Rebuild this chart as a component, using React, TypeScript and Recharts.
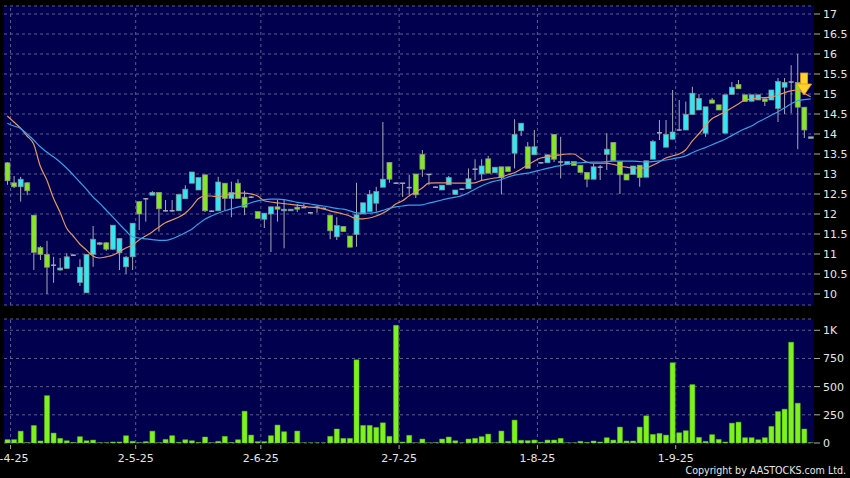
import React from "react";
import {
  ComposedChart,
  Bar,
  Line,
  XAxis,
  YAxis,
  CartesianGrid,
  ReferenceLine,
  ReferenceDot,
} from "recharts";

// daily OHLC
const opens = [
  13.28, 12.78, 12.68, 12.78, 11.97, 11.16, 10.99, 10.72, 10.6, 10.64,
  10.97, 10.29, 10.03, 10.99, 11.25, 11.28, 11.12, 11.03, 10.68, 10.93,
  12.31, 12.38, 12.47, 12.54, 12.08, 12.08, 12.08, 12.38, 12.77, 12.6,
  12.98, 12.07, 12.08, 12.77, 12.39, 12.77, 12.42, 12.42, 12.06, 11.87,
  12.0, 12.18, 12.08, 12.08, 12.17, 12.16, 12.03, 12.17, 12.14, 11.97,
  11.43, 11.69, 11.45, 11.49, 12.0, 12.06, 12.27, 12.67, 13.29, 12.77,
  12.77, 12.66, 13.0, 13.49, 12.99, 12.67, 12.6, 12.73, 12.49, 12.62,
  12.63, 13.12, 13.0, 13.38, 13.03, 13.18, 13.18, 13.52, 14.08, 13.68,
  13.48, 13.28, 13.28, 13.99, 13.3, 13.24, 13.31, 13.22, 13.04, 12.87,
  13.17, 13.49, 13.79, 13.31, 13.0, 12.99, 13.22, 12.92, 13.37, 14.03,
  13.67, 13.87, 14.1, 14.1, 14.49, 14.6, 14.02, 14.85, 14.73, 14.02,
  14.99, 15.24, 14.98, 14.82, 14.85, 14.88, 14.85, 14.64, 15.17, 15.3,
  15.29, 14.67, 13.89,
];
const highs = [
  13.3, 12.95, 12.93, 12.8, 11.97, 11.2, 11.33, 10.93, 10.9, 11.02,
  10.99, 10.87, 10.99, 11.7, 11.3, 11.3, 11.72, 11.4, 10.95, 11.77,
  12.31, 12.4, 12.57, 12.54, 12.35, 12.35, 12.49, 12.72, 13.05, 12.91,
  12.98, 12.09, 12.93, 12.77, 12.81, 12.87, 12.58, 12.45, 12.06, 12.02,
  12.18, 12.35, 12.37, 12.12, 12.25, 12.25, 12.05, 12.2, 12.16, 11.97,
  11.92, 11.69, 11.45, 12.78, 12.28, 12.6, 12.68, 14.3, 13.29, 12.79,
  12.77, 12.98, 13.0, 13.6, 12.99, 12.69, 12.72, 12.95, 12.6, 12.64,
  13.14, 13.37, 13.37, 13.45, 13.17, 13.18, 13.18, 14.37, 14.27, 13.8,
  14.1, 13.3, 13.48, 14.0, 13.93, 13.31, 13.31, 13.22, 13.04, 13.25,
  13.22, 14.02, 13.79, 13.31, 13.0, 13.2, 13.22, 13.33, 13.85, 14.35,
  14.35, 15.1, 14.85, 14.81, 15.18, 15.0, 14.68, 14.9, 14.73, 14.98,
  15.3, 15.35, 14.98, 14.98, 14.98, 14.88, 15.1, 15.4, 15.4, 15.72,
  16.0, 14.67, 13.93,
];
const lows = [
  12.73, 12.65, 12.31, 12.47, 10.6, 10.85, 10.0, 10.28, 10.58, 10.64,
  10.95, 10.2, 10.03, 10.68, 11.22, 11.08, 11.1, 10.6, 10.5, 10.6,
  11.6, 11.81, 12.47, 11.56, 12.06, 12.06, 12.08, 12.38, 12.77, 12.6,
  12.05, 12.05, 12.08, 12.1, 11.92, 12.39, 11.97, 12.4, 11.89, 11.65,
  11.05, 11.81, 11.14, 12.08, 12.05, 12.16, 12.01, 12.03, 12.12, 11.37,
  11.35, 11.56, 11.17, 11.18, 12.0, 12.06, 12.06, 12.67, 12.78, 12.75,
  12.43, 12.48, 12.4, 12.93, 12.72, 12.65, 12.6, 12.73, 12.49, 12.6,
  12.63, 12.85, 12.85, 13.02, 13.03, 12.49, 13.06, 13.14, 13.95, 13.14,
  13.48, 13.26, 13.28, 13.3, 12.89, 13.24, 13.21, 13.04, 12.67, 12.87,
  12.85, 13.1, 13.33, 12.5, 12.85, 12.99, 12.68, 12.92, 13.37, 13.85,
  13.67, 13.87, 14.08, 14.1, 14.49, 14.6, 13.93, 14.77, 14.6, 14.02,
  14.99, 15.13, 14.81, 14.82, 14.85, 14.7, 14.85, 14.3, 14.5, 14.52,
  13.62, 13.9, 13.89,
];
const closes = [
  12.83, 12.68, 12.87, 12.58, 11.04, 10.99, 10.67, 10.72, 10.65, 10.93,
  10.97, 10.67, 10.99, 11.37, 11.28, 11.12, 11.72, 11.39, 10.92, 11.77,
  12.0, 12.38, 12.54, 12.13, 12.08, 12.08, 12.49, 12.62, 13.05, 12.91,
  12.08, 12.07, 12.8, 12.39, 12.54, 12.39, 12.17, 12.42, 11.89, 12.02,
  12.18, 12.12, 12.12, 12.12, 12.12, 12.16, 12.03, 12.17, 12.14, 11.58,
  11.71, 11.56, 11.17, 11.98, 12.28, 12.49, 12.56, 12.87, 12.87, 12.77,
  12.77, 12.66, 12.48, 13.12, 12.99, 12.67, 12.72, 12.91, 12.6, 12.62,
  12.88, 13.12, 13.2, 13.02, 13.17, 12.91, 13.06, 13.99, 14.27, 13.14,
  13.68, 13.28, 13.48, 13.37, 13.3, 13.31, 13.21, 13.04, 12.87, 13.18,
  13.17, 13.62, 13.33, 12.98, 12.85, 13.2, 12.91, 13.33, 13.81, 14.03,
  13.99, 14.05, 14.1, 14.49, 15.02, 14.89, 14.68, 14.77, 14.6, 14.98,
  15.17, 15.13, 14.81, 14.98, 14.98, 14.81, 15.1, 15.31, 15.29, 15.3,
  14.67, 14.1, 13.93,
];
// volume, thousands
const volumes = [
  30, 30, 105, 3, 155, 18, 420, 88, 41, 20,
  5, 56, 20, 26, 2, 2, 9, 9, 65, 15,
  3, 12, 105, 2, 32, 65, 6, 29, 20, 5,
  53, 2, 15, 59, 5, 29, 282, 70, 12, 12,
  65, 159, 100, 5, 106, 1, 1, 1, 1, 59,
  124, 41, 41, 738, 156, 156, 138, 179, 59, 1044,
  9, 68, 1, 35, 1, 3, 35, 53, 20, 1,
  35, 41, 56, 79, 1, 106, 15, 203, 24, 21,
  26, 6, 26, 26, 41, 1, 1, 15, 5, 18,
  9, 47, 26, 141, 18, 18, 141, 241, 76, 85,
  70, 712, 91, 109, 518, 50, 15, 74, 32, 9,
  176, 185, 47, 47, 29, 47, 147, 279, 300, 894,
  353, 124, 2,
];
const maShort = [
  14.45, 14.3, 14.15, 13.95, 13.75, 13.2, 12.85, 12.4, 12.05, 11.65,
  11.45, 11.25, 11.1, 10.95, 10.9, 10.93, 10.97, 11.05, 11.15, 11.22,
  11.35, 11.45, 11.55, 11.67, 11.78, 11.85, 11.92, 12.02, 12.18, 12.38,
  12.45, 12.45, 12.43, 12.46, 12.5, 12.52, 12.52, 12.5, 12.45, 12.33,
  12.3, 12.28, 12.26, 12.24, 12.22, 12.2, 12.17, 12.16, 12.13, 12.08,
  12.04, 12.0, 11.95, 11.88, 11.88, 11.9, 11.95, 12.02, 12.12, 12.25,
  12.33, 12.45, 12.55, 12.65, 12.77, 12.78, 12.78, 12.78, 12.77, 12.77,
  12.77, 12.78, 12.84, 12.87, 12.9, 12.92, 12.98, 13.03, 13.12, 13.22,
  13.32, 13.4, 13.43, 13.46, 13.48, 13.5, 13.5, 13.4, 13.3, 13.27,
  13.27, 13.27, 13.24, 13.2, 13.17, 13.15, 13.15, 13.15, 13.22, 13.3,
  13.4, 13.45, 13.5, 13.6, 13.82, 14.0, 14.2, 14.38, 14.47, 14.55,
  14.65, 14.75, 14.85, 14.87, 14.9, 14.91, 14.93, 14.97, 15.03, 15.08,
  15.1, 15.02, 14.93,
];
const maLong = [
  14.27, 14.2, 14.14, 14.0, 13.85, 13.68, 13.55, 13.43, 13.3, 13.15,
  12.98, 12.8, 12.62, 12.43, 12.27, 12.1, 11.93, 11.75, 11.58, 11.43,
  11.4, 11.38, 11.36, 11.34, 11.34, 11.38, 11.45, 11.53, 11.62, 11.75,
  11.87, 11.95, 12.02, 12.08, 12.13, 12.17, 12.22, 12.28, 12.33, 12.36,
  12.37, 12.37, 12.36, 12.33, 12.29, 12.27, 12.25, 12.22, 12.2, 12.17,
  12.14, 12.12, 12.08, 12.03, 12.02, 12.02, 12.04, 12.09, 12.14, 12.18,
  12.2, 12.22, 12.22, 12.23, 12.27, 12.31, 12.35, 12.39, 12.42, 12.46,
  12.53, 12.62, 12.7, 12.77, 12.82, 12.86, 12.92, 12.97, 13.0, 13.02,
  13.06, 13.1, 13.14, 13.18, 13.21, 13.25, 13.27, 13.28, 13.29, 13.3,
  13.3, 13.31, 13.32, 13.32, 13.32, 13.32, 13.31, 13.3, 13.31, 13.33,
  13.35, 13.38, 13.41, 13.45, 13.53, 13.6, 13.66, 13.73, 13.8, 13.87,
  13.96, 14.05, 14.13, 14.2, 14.3, 14.38, 14.47, 14.55, 14.65, 14.75,
  14.83, 14.86, 14.88,
];
const tickIdx = [0, 19, 38, 59, 80, 101];
const tickLabels = ["1-4-25", "2-5-25", "2-6-25", "2-7-25", "1-8-25", "1-9-25"];
const priceTicks = [10, 10.5, 11, 11.5, 12, 12.5, 13, 13.5, 14, 14.5, 15, 15.5, 16, 16.5, 17];
const volTicks = [0, 250, 500, 750, 1000];
const signalIdx = 121;
const signalPrice = 15.25;

const data = opens.map((o, i) => ({
  i,
  o,
  h: highs[i],
  l: lows[i],
  c: closes[i],
  range: [lows[i], highs[i]],
  v: volumes[i],
  maShort: maShort[i],
  maLong: maLong[i],
}));

const NAVY = "#00004e";
const GRID = "#5c5c8e";
const UP = "#33e6f2";
const DOWN = "#84e624";
const WICK = "#a8a8b4";
const TXT = "#e6e6e6";
const FONT = "DejaVu Sans, sans-serif";
const HALF_BAND = 810 / opens.length / 2;

const Candle = (props: any) => {
  const { x, y, width, height, payload } = props;
  if (x == null || y == null || !payload) return null;
  const { o, c, h, l } = payload;
  const top = Math.min(y, y + height);
  const bot = Math.max(y, y + height);
  const py = (v: number) => (h === l ? top : top + ((h - v) / (h - l)) * (bot - top));
  const cx = x + width / 2;
  const b1 = py(Math.max(o, c));
  const b2 = py(Math.min(o, c));
  if (Math.abs(c - o) < 0.005) {
    return (
      <g>
        <line x1={cx} x2={cx} y1={top} y2={bot} stroke={WICK} />
        <line x1={x} x2={x + width} y1={b1} y2={b1} stroke={WICK} strokeWidth={1.5} />
      </g>
    );
  }
  return (
    <g>
      <line x1={cx} x2={cx} y1={top} y2={bot} stroke={WICK} />
      <rect
        x={x}
        y={b1}
        width={width}
        height={Math.max(b2 - b1, 1.5)}
        fill={c > o ? UP : DOWN}
        stroke="#8e8e8e"
        strokeWidth={0.7}
      />
    </g>
  );
};

const Arrow = (props: any) => {
  const { cx, cy } = props;
  return (
    <g>
      <rect x={cx - 3.5} y={cy - 11} width={7} height={12} fill="#ffd22e" stroke="#e39c12" strokeWidth={0.8} />
      <polygon
        points={`${cx - 7.5},${cy} ${cx + 7.5},${cy} ${cx},${cy + 11}`}
        fill="#ffd22e"
        stroke="#e39c12"
        strokeWidth={0.8}
      />
    </g>
  );
};

const DateTick = (props: any) => {
  const { x, y, payload } = props;
  const k = tickIdx.indexOf(payload.value);
  const tx = x + HALF_BAND;
  return (
    <g>
      <line x1={tx} x2={tx} y1={y - 9} y2={y - 5} stroke="#aaaaaa" />
      <text x={tx} y={y} dy="0.71em" textAnchor="middle" fill={TXT} fontSize={11} fontFamily={FONT}>
        {k >= 0 ? tickLabels[k] : ""}
      </text>
    </g>
  );
};

const axisTick = { fill: TXT, fontSize: 11, fontFamily: FONT };

const App = () => {
  return (
    <div style={{ position: "absolute", left: 0, top: 0, width: 850, height: 478, background: "#000", overflow: "hidden" }}>
      <div style={{ position: "absolute", left: 0, top: 0 }}>
        <ComposedChart width={850} height={310} data={data} margin={{ top: 6, right: 0, bottom: 5, left: 4 }}>
          <CartesianGrid vertical={false} stroke={GRID} strokeDasharray="3 3" fill={NAVY} />
          <XAxis dataKey="i" type="category" hide />
          <YAxis
            orientation="right"
            width={36}
            domain={[9.725, 17.2]}
            ticks={priceTicks}
            allowDataOverflow
            axisLine={false}
            tickSize={6}
            tickMargin={3}
            tickLine={{ stroke: "#aaaaaa" }}
            tick={axisTick}
            interval={0}
          />
          {tickIdx.map((t) => (
            <ReferenceLine key={t} x={t} position="end" stroke={GRID} strokeDasharray="3 3" />
          ))}
          <Bar dataKey="range" barSize={5} shape={(p: any) => <Candle {...p} />} isAnimationActive={false} />
          <Line type="monotone" dataKey="maShort" stroke="#e39560" strokeWidth={1.2} dot={false} isAnimationActive={false} />
          <Line type="monotone" dataKey="maLong" stroke="#35a0e6" strokeWidth={1.2} dot={false} isAnimationActive={false} />
          <ReferenceDot x={signalIdx} y={signalPrice} shape={(p: any) => <Arrow {...p} />} />
        </ComposedChart>
      </div>
      <div style={{ position: "absolute", left: 0, top: 310 }}>
        <ComposedChart width={850} height={168} data={data} margin={{ top: 9, right: 0, bottom: 15, left: 4 }}>
          <CartesianGrid vertical={false} stroke={GRID} strokeDasharray="3 3" fill={NAVY} />
          <XAxis
            dataKey="i"
            type="category"
            ticks={tickIdx}
            interval={0}
            height={20}
            axisLine={false}
            tickLine={false}
            tickSize={6}
            tickMargin={5}
            tick={(p: any) => <DateTick {...p} />}
          />
          <YAxis
            orientation="right"
            width={36}
            domain={[0, 1100]}
            ticks={volTicks}
            allowDataOverflow
            axisLine={false}
            tickSize={6}
            tickMargin={3}
            tickLine={{ stroke: "#aaaaaa" }}
            tick={axisTick}
            interval={0}
            tickFormatter={(v: number) => (v >= 1000 ? "1K" : String(v))}
          />
          {tickIdx.map((t) => (
            <ReferenceLine key={t} x={t} position="end" stroke={GRID} strokeDasharray="3 3" />
          ))}
          <Bar dataKey="v" barSize={5} fill="#7ef21c" stroke="#5fb815" strokeWidth={0.5} isAnimationActive={false} />
        </ComposedChart>
      </div>
      <div
        style={{
          position: "absolute",
          right: 4,
          top: 464,
          color: TXT,
          fontFamily: "'DejaVu Sans Condensed', 'Liberation Sans Narrow', 'Liberation Sans', sans-serif",
          fontSize: 10.6,
          lineHeight: "13px",
          whiteSpace: "nowrap",
        }}
      >
        Copyright by AASTOCKS.com Ltd.
      </div>
    </div>
  );
};

export default App;
